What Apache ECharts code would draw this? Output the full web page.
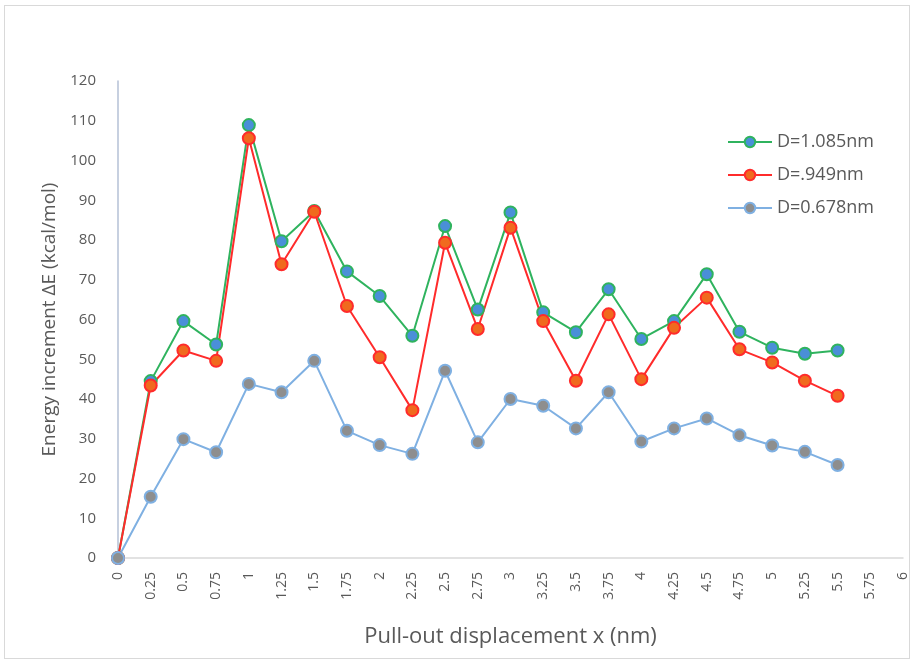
<!DOCTYPE html>
<html>
<head>
<meta charset="utf-8">
<script src="https://cdn.jsdelivr.net/npm/echarts@6/dist/echarts.min.js"></script>
<style>
html,body{margin:0;padding:0;background:#fff;}
#frame{position:absolute;left:4px;top:5px;width:906px;height:654px;border:1px solid #d9d9d9;box-sizing:border-box;pointer-events:none;}
#c{position:absolute;left:0;top:0;width:916px;height:662px;}
</style>
</head>
<body>
<div id="c"></div>
<div id="frame"></div>
<script>
const xLabels = ["0","0.25","0.5","0.75","1","1.25","1.5","1.75","2","2.25","2.5","2.75","3","3.25","3.5","3.75","4","4.25","4.5","4.75","5","5.25","5.5","5.75","6"];
const d1085 = [0,44.5,59.6,53.7,108.9,79.7,87.3,72.1,65.9,55.9,83.5,62.5,86.9,61.8,56.8,67.6,55.1,59.6,71.4,56.9,52.9,51.4,52.2];
const d949  = [0,43.4,52.2,49.6,105.6,73.9,87.1,63.4,50.5,37.2,79.3,57.6,83.1,59.6,44.6,61.3,45.0,57.9,65.5,52.5,49.2,44.6,40.8];
const d678  = [0,15.4,29.9,26.6,43.8,41.7,49.6,32.0,28.4,26.2,47.1,29.1,40.0,38.3,32.6,41.7,29.3,32.6,35.1,30.9,28.3,26.7,23.4];
const yTicks = {min:0, max:120, interval:10};

const font = "'Open Sans', 'Liberation Sans', sans-serif";
const chart = echarts.init(document.getElementById('c'), null, {renderer:'canvas'});
function mkSeries(name, data, line, fill, border){
  return {
    name, type:'line', data, symbol:'circle', symbolSize:12,
    lineStyle:{color:line, width:2},
    itemStyle:{color:fill, borderColor:border, borderWidth:2},
    emphasis:{disabled:true}, animation:false, z: 2
  };
}
chart.setOption({
  animation:false,
  grid:{left:118, top:81, right:13, bottom:104, containLabel:false},
  legend:{
    orient:'vertical', left:722, top:128, itemGap:15, itemWidth:44, itemHeight:13,
    textStyle:{fontFamily:font, fontSize:18, color:'#595959'},
    data:['D=1.085nm','D=.949nm','D=0.678nm']
  },
  xAxis:{
    type:'category', data:xLabels, boundaryGap:false,
    name:'Pull-out displacement x (nm)', nameLocation:'middle', nameGap:68,
    nameTextStyle:{fontFamily:font, fontSize:22, color:'#595959'},
    axisLine:{lineStyle:{color:'#d9d9d9', width:1.5}},
    axisTick:{show:false},
    axisLabel:{rotate:90, interval:0, fontFamily:font, fontSize:14, color:'#595959', margin:14},
    splitLine:{show:false}
  },
  yAxis:{
    type:'value', min:yTicks.min, max:yTicks.max, interval:yTicks.interval,
    name:'Energy increment ΔE (kcal/mol)', nameLocation:'middle', nameGap:58,
    nameTextStyle:{fontFamily:font, fontSize:19, color:'#595959'},
    axisLine:{show:true, lineStyle:{color:'#b4c0d6', width:1.5}},
    axisTick:{show:false},
    axisLabel:{fontFamily:font, fontSize:15, color:'#595959', margin:22},
    splitLine:{show:false}
  },
  series:[
    mkSeries('D=1.085nm', d1085, '#2fb35e', '#4a8fd8', '#2fb35e'),
    mkSeries('D=.949nm', d949, '#ff2b2b', '#f06a1e', '#ff2b2b'),
    mkSeries('D=0.678nm', d678, '#7fb0e2', '#8e8e8e', '#7fb0e2')
  ]
});
</script>
</body>
</html>
